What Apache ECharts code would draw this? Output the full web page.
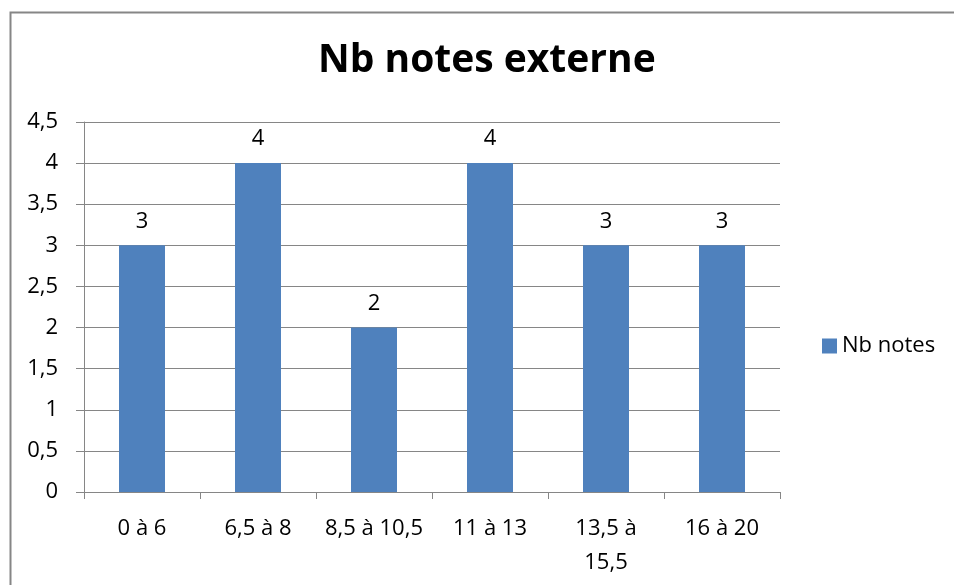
<!DOCTYPE html>
<html>
<head>
<meta charset="utf-8">
<script src="https://cdn.jsdelivr.net/npm/echarts@6/dist/echarts.min.js"></script>
<style>
  html, body { margin: 0; padding: 0; background: #fff; }
  #chart { width: 954px; height: 585px; }
</style>
</head>
<body>
<div id="chart"></div>
<script>
// Score ranges and how many marks fall in each
const categories = ['0 à 6', '6,5 à 8', '8,5 à 10,5', '11 à 13', '13,5 à\n15,5', '16 à 20'];
const counts = [3, 4, 2, 4, 3, 3];
const seriesName = 'Nb notes';
const titleText = 'Nb notes externe';

const FONT = '"Open Sans", "Liberation Sans", sans-serif';
const GRAY = '#868686';
const BLUE = '#4F81BD';

const chart = echarts.init(document.getElementById('chart'), null, { renderer: 'canvas' });

chart.setOption({
  animation: false,
  backgroundColor: '#fff',
  graphic: [{
    type: 'rect',
    left: 8, top: 10,
    shape: { width: 960, height: 600 },
    style: { fill: 'none', stroke: GRAY, lineWidth: 2 },
    silent: true
  }],
  title: {
    text: titleText,
    left: 313,
    top: 36,
    textStyle: { fontFamily: FONT, fontWeight: 'bold', fontSize: 39, color: '#000' }
  },
  legend: {
    left: 817,
    top: 330,
    itemWidth: 15,
    itemHeight: 15,
    itemGap: 7,
    icon: 'rect',
    textStyle: { fontFamily: FONT, fontSize: 22, color: '#000' },
    data: [seriesName]
  },
  grid: { left: 84, right: 174, top: 122, bottom: 93, containLabel: false },
  xAxis: {
    type: 'category',
    data: categories,
    axisLine: { lineStyle: { color: GRAY, width: 1 } },
    axisTick: { show: true, length: 7, lineStyle: { color: GRAY } },
    axisLabel: {
      fontFamily: FONT, fontSize: 22, color: '#000',
      margin: 20, lineHeight: 34, interval: 0
    }
  },
  yAxis: {
    type: 'value',
    min: 0, max: 4.5, interval: 0.5,
    axisLine: { show: true, lineStyle: { color: GRAY, width: 1 } },
    axisTick: { show: true, length: 8, lineStyle: { color: GRAY } },
    splitLine: { lineStyle: { color: GRAY, width: 1 } },
    axisLabel: {
      fontFamily: FONT, fontSize: 22, color: '#000', margin: 26,
      formatter: v => String(v).replace('.', ',')
    }
  },
  series: [{
    name: seriesName,
    type: 'bar',
    data: counts,
    barWidth: 46,
    itemStyle: { color: BLUE },
    label: {
      show: true, position: 'top', distance: 13,
      fontFamily: FONT, fontSize: 22, color: '#000'
    }
  }]
});
</script>
</body>
</html>
